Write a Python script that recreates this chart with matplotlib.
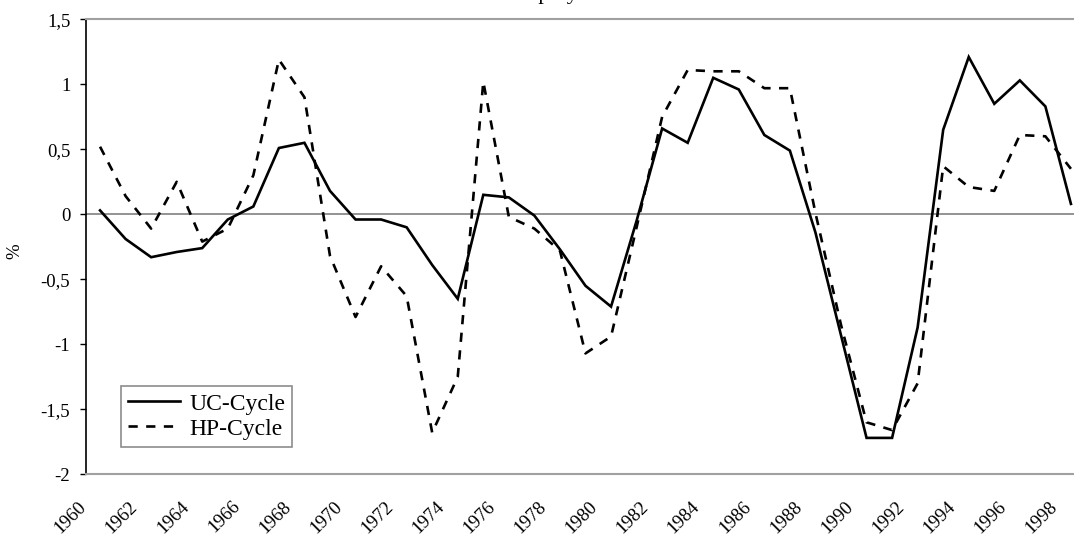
import matplotlib
matplotlib.use("Agg")
import matplotlib.pyplot as plt
import matplotlib.transforms as mtransforms
import numpy as np

years = list(range(1960, 1999))
uc_cycle = [0.03, -0.19, -0.33, -0.29, -0.26, -0.04, 0.06, 0.51, 0.55, 0.18,
            -0.04, -0.04, -0.10, -0.39, -0.65, 0.15, 0.13, -0.01, -0.27, -0.55,
            -0.71, -0.05, 0.66, 0.55, 1.05, 0.96, 0.61, 0.49, -0.14, -0.93,
            -1.72, -1.72, -0.87, 0.65, 1.21, 0.85, 1.03, 0.83, 0.08]
hp_cycle = [0.52, 0.14, -0.11, 0.25, -0.21, -0.11, 0.30, 1.19, 0.90, -0.32,
            -0.79, -0.40, -0.63, -1.68, -1.25, 1.02, -0.02, -0.11, -0.28, -1.07,
            -0.94, -0.10, 0.75, 1.11, 1.10, 1.10, 0.97, 0.97, 0.01, -0.85,
            -1.60, -1.66, -1.30, 0.37, 0.21, 0.18, 0.61, 0.60, 0.35]
xtick_years = list(range(1960, 1999, 2))
ytick_vals = [-2, -1.5, -1, -0.5, 0, 0.5, 1, 1.5]
ytick_labels = ["-2", "-1,5", "-1", "-0,5", "0", "0,5", "1", "1,5"]

plt.rcParams['font.family'] = ['Liberation Serif', 'DejaVu Serif']

fig = plt.figure(figsize=(10.74, 5.35), dpi=100)
ax = fig.add_axes([86/1074, 1 - 474.3/535, 1 - 86/1074, (474.3 - 19.3)/535])

ax.plot(years, uc_cycle, color='black', lw=1.9, solid_joinstyle='miter', label='UC-Cycle')
ax.plot(years, hp_cycle, color='black', lw=1.9, linestyle=(0, (3.5, 3.2)), label='HP-Cycle')

ax.axhline(0, color='#808080', lw=1.2, zorder=1)

ax.set_xlim(1959.45, 1998.12)
ax.set_ylim(-2, 1.5)

ax.set_yticks(ytick_vals)
ax.set_yticklabels(ytick_labels, fontsize=13.5)
ax.set_xticks(xtick_years)
ax.set_xticklabels([str(y) for y in xtick_years], fontsize=13.5, rotation=45, ha='right')
ax.tick_params(axis='x', length=0, pad=17)
ax.tick_params(axis='y', length=4.3, width=1, direction='out', pad=7, color='black')
offset = mtransforms.ScaledTranslation(-10/100, 0, fig.dpi_scale_trans)
for lbl in ax.get_xticklabels():
    lbl.set_transform(lbl.get_transform() + offset)

for s in ['top', 'bottom']:
    ax.spines[s].set_color('#a0a0a0')
    ax.spines[s].set_linewidth(1.5)
ax.spines['right'].set_visible(False)
ax.spines['left'].set_color('black')
ax.spines['left'].set_linewidth(1.2)

ax.set_ylabel('%', fontsize=13.5)
ax.yaxis.set_label_coords((23 - 86) / 988, 0.49)

leg = ax.legend(loc='lower left', bbox_to_anchor=((120.7-86)/988, (474.3-446.7)/455),
                fontsize=17, frameon=True, fancybox=False, borderpad=0.3,
                handlelength=2.2, handletextpad=0.4, labelspacing=0.15, borderaxespad=0)
leg.get_frame().set_edgecolor('#707070')
leg.get_frame().set_linewidth(1.2)

fig.text(554/1074, 1 + 1.5/535, 'Unemployment', ha='center', va='baseline', fontsize=16)

fig.savefig('out.png', dpi=100)
